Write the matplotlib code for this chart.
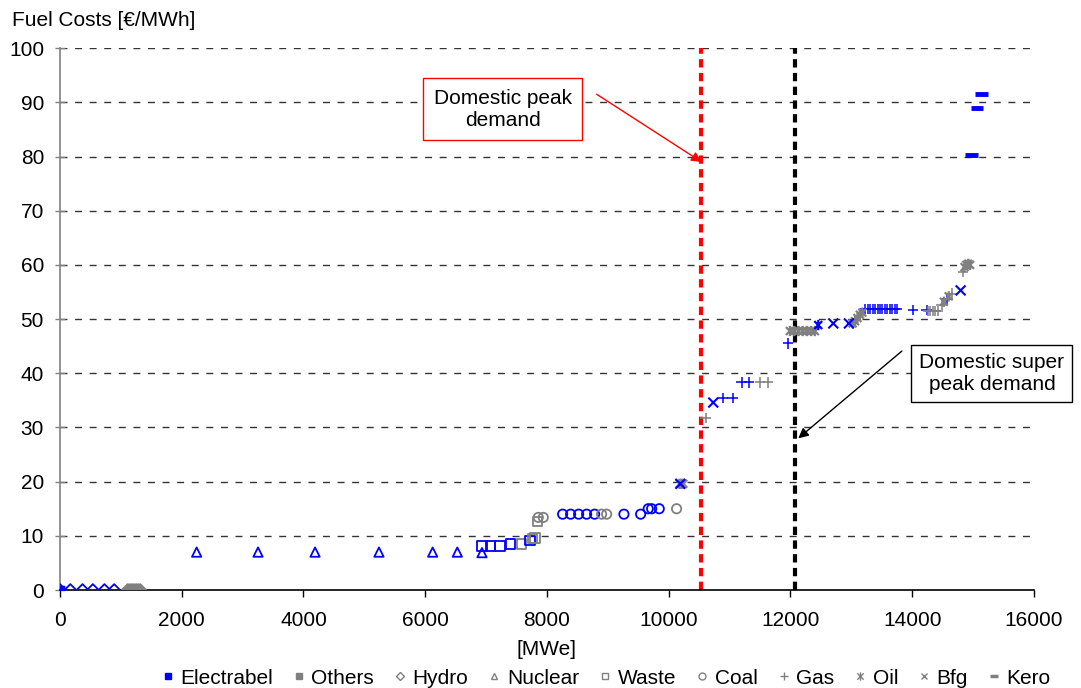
import matplotlib.pyplot as plt
import numpy as np
from matplotlib.path import Path
from matplotlib.lines import Line2D

BLUE = '#0000FF'
GREY = '#808080'

# fuel type -> (x [MWe], y [EUR/MWh], owner) ; owner E = Electrabel, O = Others
hydro_x = [0, 170, 370, 540, 730, 890, 1110, 1140, 1170, 1200, 1230, 1260, 1290, 1320]
hydro_y = [0, 0, 0, 0, 0, 0, 0, 0, 0, 0, 0, 0, 0, 0]
hydro_o = ['E', 'E', 'E', 'E', 'E', 'E', 'O', 'O', 'O', 'O', 'O', 'O', 'O', 'O']

nuclear_x = [2245, 3253, 4190, 5240, 6122, 6527, 6932]
nuclear_y = [7, 7, 7, 7, 7, 7, 6.9]
nuclear_o = ['E', 'E', 'E', 'E', 'E', 'E', 'E']

waste_x = [6932, 7074, 7227, 7402, 7583, 7720, 7760, 7802, 7840]
waste_y = [8.1, 8.1, 8.1, 8.5, 8.5, 9.2, 9.5, 9.6, 12.6]
waste_o = ['E', 'E', 'E', 'E', 'O', 'E', 'O', 'O', 'O']

coal_x = [7857, 7939, 8257, 8388, 8520, 8651, 8782, 8897, 8980, 9264, 9538,
          9663, 9719, 9844, 10129]
coal_y = [13.4, 13.4, 14, 14, 14, 14, 14, 14, 14, 14, 14, 15, 15, 15, 15]
coal_o = ['O', 'O', 'E', 'E', 'E', 'E', 'E', 'O', 'O', 'E', 'E', 'E', 'E', 'E', 'O']

gas_x = [10606, 10896, 11049, 11197, 11317, 11498, 11635, 11963,
         13230, 13270, 13310, 13350, 13390, 13430, 13470, 13510, 13550,
         13590, 13630, 13670, 13710, 13750, 14017, 14236,
         14260, 14300, 14340, 14380, 14420, 14483, 14565, 14647, 14838]
gas_y = [31.7, 35.4, 35.4, 38.3, 38.3, 38.3, 38.3, 45.5,
         51.8, 51.8, 51.8, 51.8, 51.8, 51.8, 51.8, 51.8, 51.8,
         51.8, 51.8, 51.8, 51.8, 51.8, 51.7, 51.7,
         51.5, 51.5, 51.5, 51.5, 51.5, 52.6, 53.8, 54.7, 58.7]
gas_o = ['O', 'E', 'E', 'E', 'E', 'O', 'O', 'E',
         'E', 'E', 'E', 'E', 'E', 'E', 'E', 'E', 'E',
         'E', 'E', 'E', 'E', 'E', 'E', 'E',
         'O', 'O', 'O', 'O', 'O', 'O', 'E', 'O', 'O']

oil_x = [10180, 10210, 10240, 11990, 12060, 12130, 12200, 12270, 12340, 12400,
         12456, 13020, 13060, 13100, 13140, 13180, 14520, 14600,
         14860, 14890, 14920, 14950]
oil_y = [19.6, 19.6, 19.6, 47.8, 47.8, 47.8, 47.8, 47.8, 47.8, 47.8,
         48.9, 49.2, 49.6, 50.2, 50.8, 51.2, 53.2, 54.2,
         59.6, 60, 60.2, 60]
oil_o = ['O', 'O', 'O', 'O', 'O', 'O', 'O', 'O', 'O', 'O',
         'E', 'O', 'O', 'O', 'O', 'O', 'O', 'O',
         'O', 'O', 'O', 'O']

bfg_x = [10190, 10731, 12703, 12960, 14795]
bfg_y = [19.6, 34.6, 49.2, 49.2, 55.3]
bfg_o = ['E', 'E', 'E', 'E', 'E']

kero_x = [14975, 15068, 15139]
kero_y = [80.3, 89, 91.5]
kero_o = ['E', 'E', 'E']

peak = 10530
super_peak = 12075

star = Path([(-1, -1), (1, 1), (-1, 1), (1, -1), (0, -1.3), (0, 1.3)],
            [Path.MOVETO, Path.LINETO] * 3)


def colors(owners):
    return [BLUE if o == 'E' else GREY for o in owners]


FS = 15

fig = plt.figure(figsize=(10.81, 6.88), dpi=100)
plt.rcParams['font.family'] = ['Liberation Sans', 'DejaVu Sans']
ax = fig.add_axes([0.0555, 0.1424, 0.901, 0.7876])

# dashed horizontal grid
for yv in range(10, 101, 10):
    ax.axhline(yv, color='#333333', lw=1, linestyle=(0, (5, 5.5)), zorder=1)

ax.axvline(peak, color='#FF0000', lw=3, linestyle=(0, (2, 1.3)), zorder=2)
ax.axvline(super_peak, color='black', lw=3, linestyle=(0, (2, 1.3)), zorder=2)

# Electrabel / Others ownership markers
ax.scatter([0], [0], marker='s', s=40, color=GREY, zorder=3)
ax.scatter([0], [0], marker='s', s=40, color=BLUE, zorder=3)

hollow = [(hydro_x, hydro_y, hydro_o, 'D', 36),
          (nuclear_x, nuclear_y, nuclear_o, '^', 45),
          (waste_x, waste_y, waste_o, 's', 45),
          (coal_x, coal_y, coal_o, 'o', 45)]
for xs, ys, os_, m, s in hollow:
    ax.scatter(xs, ys, marker=m, s=s, facecolors='none', edgecolors=colors(os_),
               linewidths=1.3, zorder=4)

ax.scatter(gas_x, gas_y, marker='+', s=55, c=colors(gas_o), linewidths=1.1, zorder=4)
ax.scatter(oil_x, oil_y, marker=star, s=55, c=colors(oil_o), linewidths=1.6, zorder=4)
ax.scatter(bfg_x, bfg_y, marker='x', s=50, c=colors(bfg_o), linewidths=1.5, zorder=5)
ax.scatter(kero_x, kero_y, marker='_', s=80, c=colors(kero_o), linewidths=3.5, zorder=4)

ax.set_xlim(0, 16000)
ax.set_ylim(0, 100)
ax.set_xticks(np.arange(0, 16001, 2000))
ax.set_yticks(np.arange(0, 101, 10))
ax.tick_params(axis='x', direction='out', length=5, width=1, pad=10, labelsize=FS)
ax.tick_params(axis='y', direction='inout', length=7, width=1, color=GREY, pad=8,
               labelsize=FS)
for s in ['top', 'right']:
    ax.spines[s].set_visible(False)
ax.spines['left'].set_color(GREY)
ax.spines['left'].set_linewidth(1.2)
ax.spines['bottom'].set_linewidth(1.2)
ax.set_xlabel('[MWe]', fontsize=FS, labelpad=7)
fig.text(12 / 1081, 1 - 20 / 688, 'Fuel Costs [€/MWh]', fontsize=FS, va='center', ha='left')

# annotations
ax.text(7277, 88.7, 'Domestic peak\ndemand', fontsize=FS, ha='center', va='center',
        bbox=dict(boxstyle='square,pad=0.5', fc='white', ec='#FF0000', lw=1), zorder=6)
ax.annotate('', xy=(10540, 79.0), xytext=(8816, 91.5),
            arrowprops=dict(arrowstyle='-|>', color='#FF0000', lw=1, mutation_scale=15,
                            shrinkA=0, shrinkB=0), zorder=6)
ax.text(15309, 40.0, 'Domestic super\npeak demand', fontsize=FS, ha='center', va='center',
        bbox=dict(boxstyle='square,pad=0.38', fc='white', ec='black', lw=1), zorder=6,
        clip_on=False)
ax.annotate('', xy=(12128, 28.0), xytext=(13830, 44.1),
            arrowprops=dict(arrowstyle='-|>', color='black', lw=1, mutation_scale=15,
                            shrinkA=0, shrinkB=0), zorder=6)

handles = [
    Line2D([], [], ls='none', marker='s', ms=5, mfc=BLUE, mec=BLUE),
    Line2D([], [], ls='none', marker='s', ms=5, mfc=GREY, mec=GREY),
    Line2D([], [], ls='none', marker='D', ms=4, mfc='none', mec=GREY),
    Line2D([], [], ls='none', marker='^', ms=5, mfc='none', mec=GREY),
    Line2D([], [], ls='none', marker='s', ms=5, mfc='none', mec=GREY),
    Line2D([], [], ls='none', marker='o', ms=5, mfc='none', mec=GREY),
    Line2D([], [], ls='none', marker='+', ms=6, mec=GREY),
    Line2D([], [], ls='none', marker=star, ms=6, mec=GREY, mew=1),
    Line2D([], [], ls='none', marker='x', ms=5, mec=GREY),
    Line2D([], [], ls='none', marker='_', ms=6, mec=GREY, mew=2.5),
]
labels = ['Electrabel', 'Others', 'Hydro', 'Nuclear', 'Waste', 'Coal', 'Gas', 'Oil',
          'Bfg', 'Kero']
fig.legend(handles, labels, loc='center', bbox_to_anchor=(0.5606, 0.0145), ncol=10,
           frameon=False, fontsize=FS, handlelength=0.6, handletextpad=0.3,
           columnspacing=0.95, borderpad=0)

fig.savefig('out.png', dpi=100)
